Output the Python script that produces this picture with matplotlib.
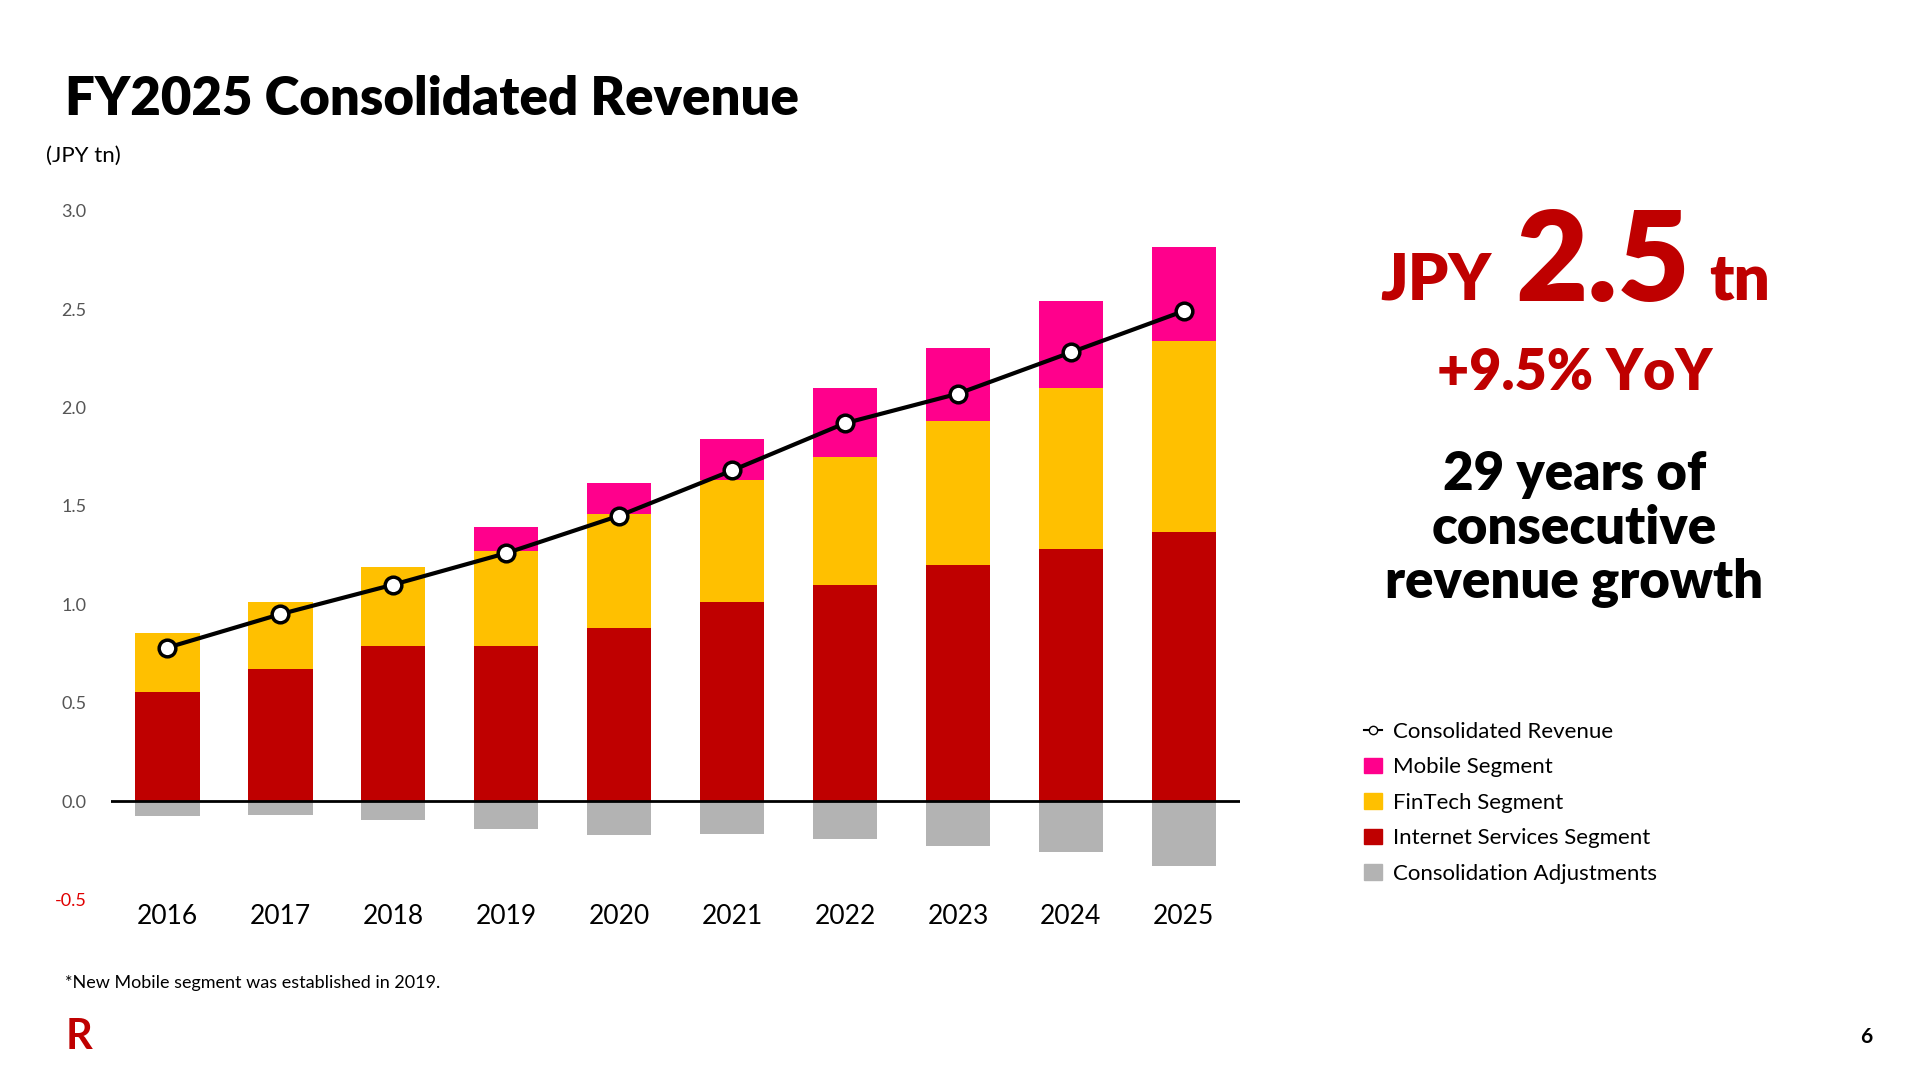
import numpy as np
import matplotlib.pyplot as plt
from matplotlib.lines import Line2D
from matplotlib.patches import Patch

plt.rcParams['font.family'] = ['Lato', 'DejaVu Sans']

years = ['2016', '2017', '2018', '2019', '2020', '2021', '2022', '2023', '2024', '2025']
internet = [0.555, 0.674, 0.786, 0.786, 0.88, 1.01, 1.10, 1.20, 1.28, 1.366]
fintech = [0.30, 0.336, 0.405, 0.487, 0.58, 0.62, 0.65, 0.73, 0.82, 0.97]
mobile = [0, 0, 0, 0.12, 0.155, 0.21, 0.35, 0.37, 0.44, 0.48]
adjust = [-0.075, -0.07, -0.095, -0.14, -0.17, -0.165, -0.19, -0.23, -0.26, -0.33]
revenue = [0.78, 0.95, 1.10, 1.26, 1.45, 1.68, 1.92, 2.07, 2.28, 2.49]

RED = '#BF0000'
YEL = '#FFC000'
PINK = '#FF008C'
GRAY = '#B3B3B3'

fig = plt.figure(figsize=(19.2, 10.8), dpi=100)
ax = fig.add_axes([0.058, 0.167, 0.588, 0.638])
x = np.arange(len(years))
w = 0.57
ax.bar(x, internet, w, color=RED, zorder=2)
ax.bar(x, fintech, w, bottom=internet, color=YEL, zorder=2)
ax.bar(x, mobile, w, bottom=np.add(internet, fintech), color=PINK, zorder=2)
ax.bar(x, adjust, w, color=GRAY, zorder=2)
ax.plot(x, revenue, color='black', lw=3, marker='o', ms=12, mfc='white', mec='black', mew=2.5, zorder=4)
ax.axhline(0, color='black', lw=2, zorder=3)

ax.set_ylim(-0.5, 3.0)
ax.set_xlim(-0.496, 9.5)
ax.set_yticks(np.arange(-0.5, 3.01, 0.5))
ax.set_yticklabels([f'{v:.1f}' for v in np.arange(-0.5, 3.01, 0.5)], fontsize=13, color='#555555')
ax.get_yticklabels()[0].set_color('#E00000')
ax.set_xticks(x)
ax.set_xticklabels(years, fontsize=19)
ax.tick_params(length=0)
ax.tick_params(axis='x', pad=3)
ax.tick_params(axis='y', pad=18)
for s in ax.spines.values():
    s.set_visible(False)

fig.text(0.034, 0.908, 'FY2025 Consolidated Revenue', fontsize=38, fontweight='heavy', va='center')
fig.text(0.024, 0.856, '(JPY tn)', fontsize=16, va='center')
fig.text(0.034, 0.09, '*New Mobile segment was established in 2019.', fontsize=13, va='center')
fig.text(0.034, 0.04, 'R', fontsize=30, fontweight='bold', color=RED, va='center')
fig.text(0.975, 0.04, '6', fontsize=15, fontweight='bold', va='center', ha='right')

fig.text(0.777, 0.74, 'JPY', fontsize=46, fontweight='heavy', color=RED, ha='right', va='center')
fig.text(0.789, 0.755, '2.5', fontsize=90, fontweight='heavy', color=RED, ha='left', va='center')
fig.text(0.89, 0.74, 'tn', fontsize=46, fontweight='heavy', color=RED, ha='left', va='center')
fig.text(0.82, 0.655, '+9.5% YoY', fontsize=40, fontweight='heavy', color=RED, ha='center', va='center')
fig.text(0.82, 0.51, '29 years of\nconsecutive\nrevenue growth', fontsize=38, fontweight='heavy',
         ha='center', va='center', linespacing=1.12)

handles = [
    Line2D([], [], color='black', lw=1.5, marker='o', ms=6, mfc='white', mec='black'),
    Patch(color=PINK), Patch(color=YEL), Patch(color=RED), Patch(color=GRAY),
]
labels = ['Consolidated Revenue', 'Mobile Segment', 'FinTech Segment',
          'Internet Services Segment', 'Consolidation Adjustments']
fig.legend(handles, labels, loc='upper left', bbox_to_anchor=(0.706, 0.34), frameon=False,
           fontsize=16, handlelength=0.8, handletextpad=0.5, labelspacing=0.7, borderaxespad=0)

fig.savefig('out.png', dpi=100, facecolor='white')
